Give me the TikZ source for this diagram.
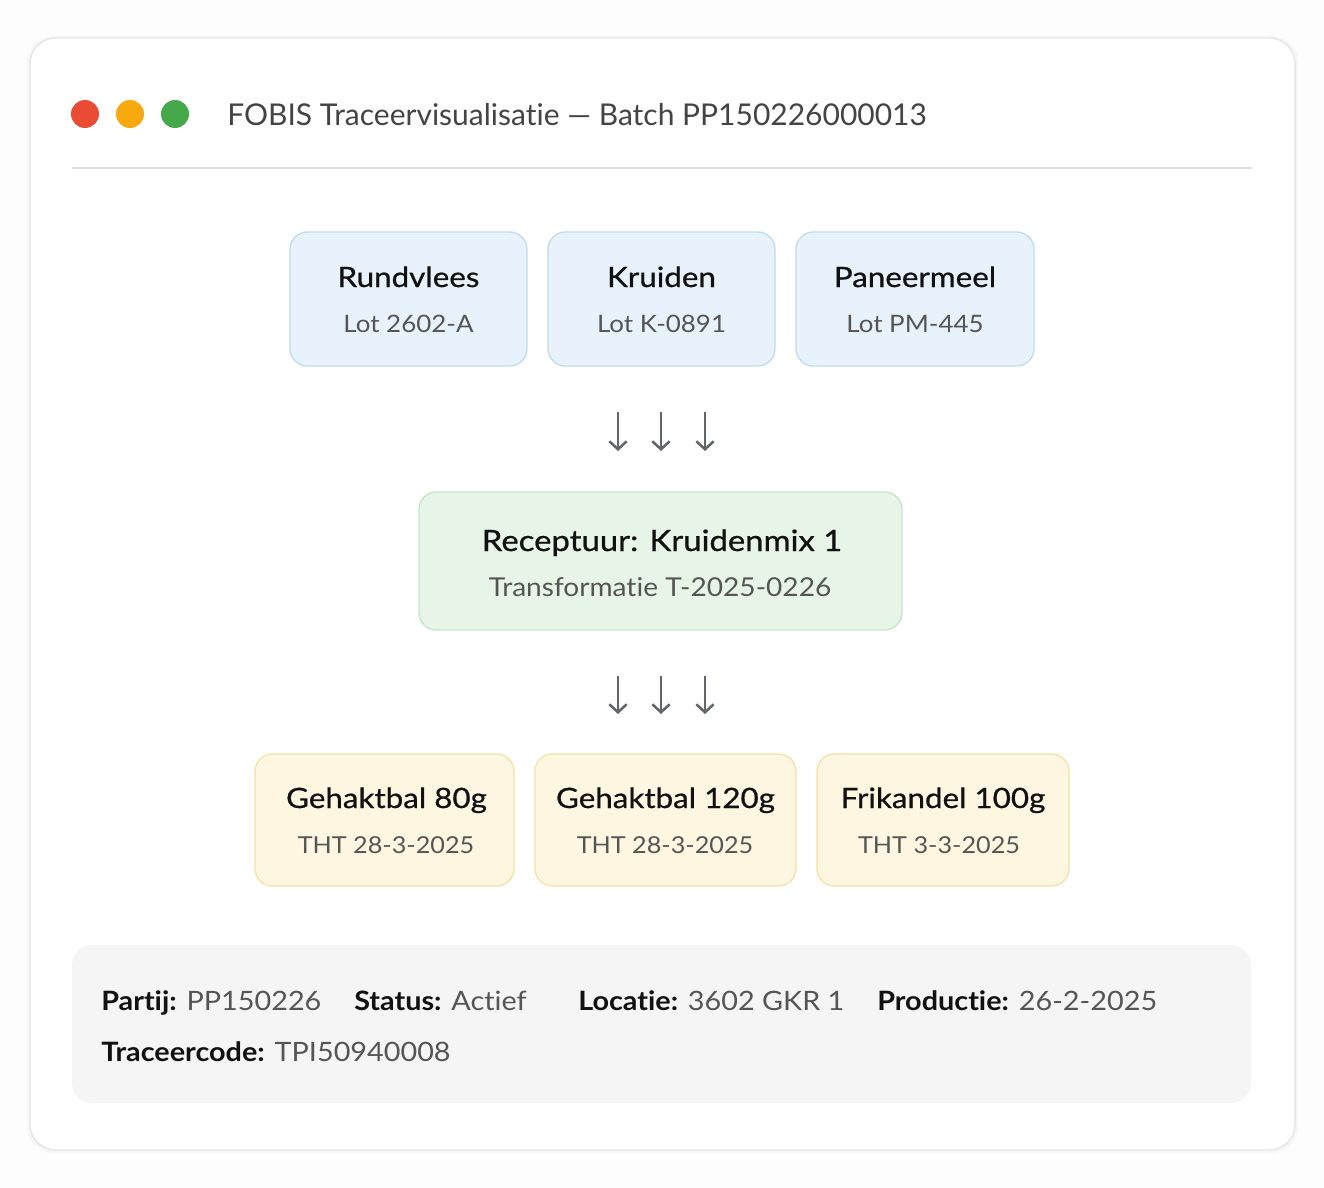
\documentclass[tikz,border=0pt]{standalone}
\usepackage{fontspec}
\setmainfont{Lato}[Ligatures=NoCommon]
\newfontfamily\titlefont{Lato}[FakeBold=0.7, FakeStretch=1.12, Ligatures=NoCommon]
\newfontfamily\subfont{Lato}[FakeStretch=1.08, Ligatures=NoCommon]
\newfontfamily\infofont{Lato}[FakeStretch=1.08, Ligatures=NoCommon]
\usetikzlibrary{arrows.meta}
\definecolor{pagebg}{HTML}{FDFDFD}
\definecolor{cardline}{HTML}{E6E6E6}
\definecolor{sepline}{HTML}{DDDDDD}
\definecolor{dotred}{HTML}{E94B35}
\definecolor{dotorange}{HTML}{F7A90F}
\definecolor{dotgreen}{HTML}{45A84B}
\definecolor{headtext}{HTML}{444444}
\definecolor{bluefill}{HTML}{E8F2FC}
\definecolor{blueline}{HTML}{C3DBEE}
\definecolor{greenfill}{HTML}{E7F5E8}
\definecolor{greenline}{HTML}{C6E5C8}
\definecolor{yellowfill}{HTML}{FDF6E1}
\definecolor{yellowline}{HTML}{F4E2A8}
\definecolor{panelfill}{HTML}{F5F5F5}
\definecolor{titletext}{HTML}{111111}
\definecolor{subtext}{HTML}{555555}
\definecolor{arrowgray}{HTML}{62666B}
\tikzset{
  box/.style={draw, line width=1pt, rounded corners=13pt, inner sep=0pt},
  srcbox/.style={box, fill=bluefill, draw=blueline},
  mixbox/.style={box, fill=greenfill, draw=greenline},
  prodbox/.style={box, fill=yellowfill, draw=yellowline},
  boxtitle/.style={anchor=base, inner sep=0pt, text=titletext, font=\titlefont\fontsize{21}{25}\selectfont},
  boxsub/.style={anchor=base, inner sep=0pt, text=subtext, font=\subfont\fontsize{18}{22}\selectfont},
  infotext/.style={anchor=base west, inner sep=0pt, text=subtext, font=\infofont\fontsize{20}{24}\selectfont},
  flowarrow/.style={draw=arrowgray, line width=1.9pt, -{Straight Barb[length=6pt,width=13pt,line width=1.9pt]}},
  dot/.style={circle, inner sep=0pt, minimum size=21pt}
}
\begin{document}
\begin{tikzpicture}[x=0.75pt,y=-0.75pt]
\useasboundingbox (0,0) rectangle (1324,1188);
\fill[pagebg] (0,0) rectangle (1324,1188);
% card shadow and card
\fill[black!3, rounded corners=20pt] (27,36) rectangle (1298,1153);
\node[draw=cardline, fill=white, line width=1.1pt, rounded corners=19pt, minimum width=948.75pt, minimum height=834pt, inner sep=0pt] (card) at (662.5,594) {};
% header
\node[dot, fill=dotred] (dred) at (85,114) {};
\node[dot, fill=dotorange] (dorange) at (130,114) {};
\node[dot, fill=dotgreen] (dgreen) at (175,114) {};
\node[anchor=base west, inner sep=0pt, text=headtext, font=\fontsize{22.5}{27}\selectfont] (head) at (227,125.5) {FOBIS Traceervisualisatie — Batch PP150226000013};
\coordinate (sepL) at (72,168);
\coordinate (sepR) at (1252,168);
\draw[sepline, line width=1.1pt] (sepL) -- (sepR);
% source boxes
\node[srcbox, minimum width=177.75pt, minimum height=100.5pt] (b1) at (408.5,299) {};
\node[srcbox, minimum width=170.25pt, minimum height=100.5pt] (b2) at (661.5,299) {};
\node[srcbox, minimum width=178.5pt, minimum height=100.5pt] (b3) at (915,299) {};
\node[boxtitle] (b1t) at (408.5,287) {Rundvlees};
\node[boxsub] (b1s) at (408.5,332) {Lot 2602-A};
\node[boxtitle] (b2t) at (661.5,287) {Kruiden};
\node[boxsub] (b2s) at (661.5,332) {Lot K-0891};
\node[boxtitle] (b3t) at (915,287) {Paneermeel};
\node[boxsub] (b3s) at (915,332) {Lot PM-445};
% arrows set 1
\coordinate (a1s) at (618,412); \coordinate (a1e) at (618,451);
\coordinate (a2s) at (661,412); \coordinate (a2e) at (661,451);
\coordinate (a3s) at (705,412); \coordinate (a3e) at (705,451);
\draw[flowarrow] (a1s) -- (a1e);
\draw[flowarrow] (a2s) -- (a2e);
\draw[flowarrow] (a3s) -- (a3e);
% mix box
\node[mixbox, minimum width=362.25pt, minimum height=103.5pt] (mix) at (660.5,561) {};
\node[boxtitle, font=\titlefont\fontsize{22}{26}\selectfont] (mixt) at (662,551) {Receptuur: Kruidenmix 1};
\node[boxsub, font=\subfont\fontsize{19.5}{23}\selectfont] (mixs) at (660,596) {Transformatie T-2025-0226};
% arrows set 2
\coordinate (c1s) at (618,676); \coordinate (c1e) at (618,714);
\coordinate (c2s) at (661,676); \coordinate (c2e) at (661,714);
\coordinate (c3s) at (705,676); \coordinate (c3e) at (705,714);
\draw[flowarrow] (c1s) -- (c1e);
\draw[flowarrow] (c2s) -- (c2e);
\draw[flowarrow] (c3s) -- (c3e);
% product boxes
\node[prodbox, minimum width=194.25pt, minimum height=99pt] (p1) at (384.5,820) {};
\node[prodbox, minimum width=195.75pt, minimum height=99pt] (p2) at (665.5,820) {};
\node[prodbox, minimum width=189pt, minimum height=99pt] (p3) at (943,820) {};
\node[boxtitle] (p1t) at (386.5,808) {Gehaktbal 80g};
\node[boxsub, font=\subfont\fontsize{17.5}{21}\selectfont] (p1s) at (386,853) {THT 28-3-2025};
\node[boxtitle] (p2t) at (665.5,808) {Gehaktbal 120g};
\node[boxsub, font=\subfont\fontsize{17.5}{21}\selectfont] (p2s) at (665,853) {THT 28-3-2025};
\node[boxtitle] (p3t) at (943,808) {Frikandel 100g};
\node[boxsub, font=\subfont\fontsize{17.5}{21}\selectfont] (p3s) at (939,853) {THT 3-3-2025};
% info panel
\node[fill=panelfill, rounded corners=15pt, minimum width=884.25pt, minimum height=118.5pt, inner sep=0pt] (panel) at (661.5,1024) {};
\node[infotext] (i1) at (101,1010) {\textcolor{titletext}{\bfseries Partij:} PP150226};
\node[infotext] (i2) at (354,1010) {\textcolor{titletext}{\bfseries Status:} Actief};
\node[infotext] (i3) at (578,1010) {\textcolor{titletext}{\bfseries Locatie:} 3602 GKR 1};
\node[infotext] (i4) at (877,1010) {\textcolor{titletext}{\bfseries Productie:} 26-2-2025};
\node[infotext] (i5) at (101,1061) {\textcolor{titletext}{\bfseries Traceercode:} TPI50940008};
\end{tikzpicture}
\end{document}
